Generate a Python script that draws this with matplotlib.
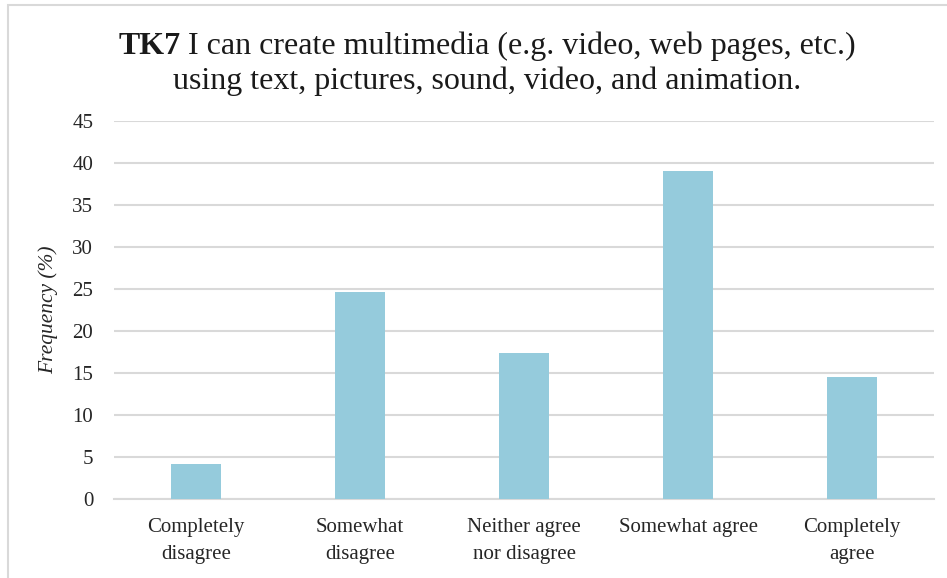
import matplotlib
matplotlib.use("Agg")
import matplotlib.pyplot as plt
from matplotlib.patches import Rectangle

categories = ["Completely\ndisagree", "Somewhat\ndisagree", "Neither agree\nnor disagree",
              "Somewhat agree", "Completely\nagree"]
values = [4.2, 24.6, 17.4, 39.1, 14.5]
yticks = [0, 5, 10, 15, 20, 25, 30, 35, 40, 45]

title_bold = "TK7"
title_line1 = " I can create multimedia (e.g. video, web pages, etc.)"
title_line2 = "using text, pictures, sound, video, and animation."

FONT = "Liberation Serif"
BAR = "#95CBDC"
GRID = "#D9D9D9"
TXT = "#262626"

W, H = 947, 578
fig = plt.figure(figsize=(W / 100, H / 100), dpi=100)

# chart frame
fig.patches.append(Rectangle((7.5 / W, -0.05), 1.1, (H - 4.5) / H + 0.05, transform=fig.transFigure,
                             fill=False, edgecolor=GRID, linewidth=1.5))

ax = fig.add_axes([114 / W, 1 - 499 / H, (934 - 114) / W, (499 - 121) / H])
x = range(len(values))
ax.bar(x, values, width=0.31, color=BAR, zorder=3)
ax.set_ylim(0, 45)
ax.set_xlim(-0.5, len(values) - 0.5)
ax.set_yticks(yticks)
ax.set_yticklabels([str(t) for t in yticks], fontfamily=FONT, fontsize=15)
ax.set_xticks(list(x))
ax.set_xticklabels(categories, fontfamily=FONT, fontsize=15, linespacing=1.55)
ax.tick_params(axis="y", length=0, pad=15, labelcolor=TXT)
ax.tick_params(axis="x", length=0, pad=14, labelcolor=TXT)
ax.grid(axis="y", color=GRID, linewidth=1.5, zorder=0)
for s in ["top", "right", "left"]:
    ax.spines[s].set_visible(False)
ax.spines["bottom"].set_color(GRID)
ax.spines["bottom"].set_linewidth(1.5)
ax.set_ylabel("Frequency (%)", fontfamily=FONT, fontsize=15.5, fontstyle="italic",
              color=TXT, labelpad=10)

# two-part first title line: bold code followed by regular text
fig.canvas.draw()
r = fig.canvas.get_renderer()
TS = 23
tb = fig.text(0, 0, title_bold, fontfamily=FONT, fontsize=TS, fontweight="bold")
tr = fig.text(0, 0, title_line1, fontfamily=FONT, fontsize=TS)
wb = tb.get_window_extent(r).width
wr = tr.get_window_extent(r).width
cx = 487
x0 = cx - (wb + wr) / 2
y1 = 1 - 46 / H
tb.set_position((x0 / W, y1)); tb.set_va("center"); tb.set_color("#1a1a1a")
tr.set_position(((x0 + wb) / W, y1)); tr.set_va("center"); tr.set_color("#1a1a1a")
fig.text(cx / W, 1 - 81 / H, title_line2, fontfamily=FONT, fontsize=TS, ha="center", va="center",
         color="#1a1a1a")

fig.savefig("out.png", dpi=100)
